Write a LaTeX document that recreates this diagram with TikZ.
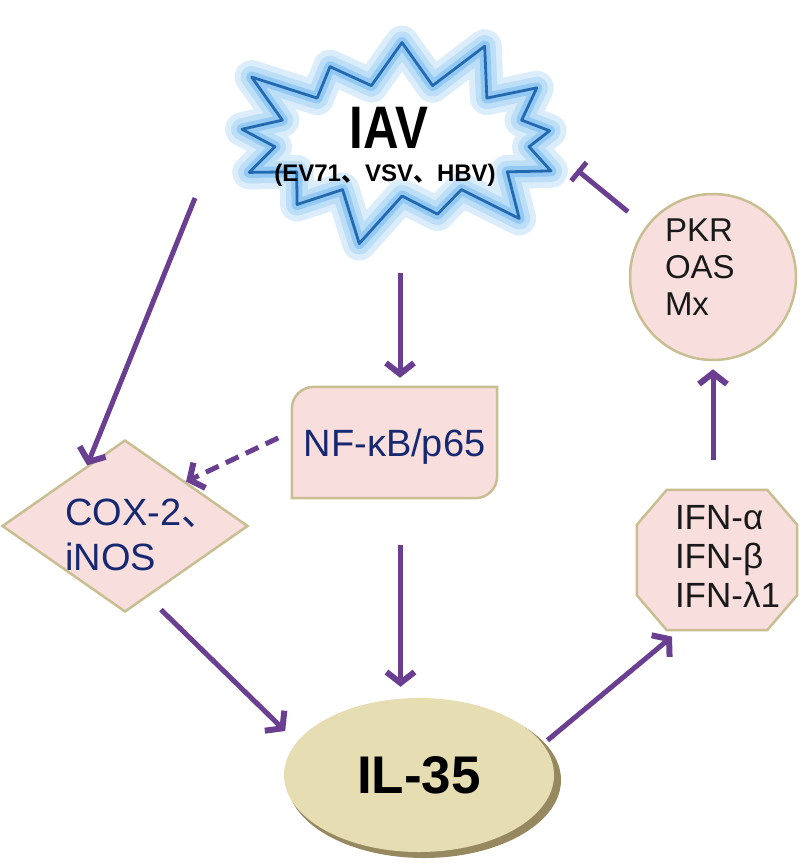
\documentclass[tikz,border=0pt]{standalone}
\usepackage{fontspec}
\setmainfont{Liberation Sans}
\newfontfamily\cjk{Noto Sans CJK SC}
\usetikzlibrary{shapes.symbols,shapes.geometric,arrows.meta,calc,backgrounds}
\definecolor{pathpurple}{RGB}{106,62,145}
\definecolor{starblue}{RGB}{35,105,175}
\definecolor{glowblue}{RGB}{135,195,240}
\definecolor{boxpink}{RGB}{249,222,222}
\definecolor{boxtan}{RGB}{200,190,145}
\definecolor{navytext}{RGB}{22,40,112}
\definecolor{inktext}{RGB}{25,25,25}
\definecolor{khaki}{RGB}{230,221,178}
\definecolor{khakidark}{RGB}{150,137,96}

\begin{document}
\begin{tikzpicture}[x=1pt,y=-1pt,
  pathway/.style={draw=pathpurple,line width=5pt,
    -{Straight Barb[length=11pt,width=28pt,line width=6pt]}},
  softbox/.style={fill=boxpink,draw=boxtan,line width=2.5pt}]
\useasboundingbox (0,0) rectangle (800,867);

% the virus
\node (iav) [starburst, starburst points=13, starburst point height=58pt,
   minimum width=372pt, minimum height=228pt, draw=starblue, line width=2.8pt, line join=round,
   preaction={draw=glowblue!30,line width=34pt,line join=round},
   preaction={draw=glowblue!55,line width=22pt,line join=round},
   preaction={draw=glowblue!90,line width=11pt,line join=round}] at (402,140) {};
\node (iavname) [anchor=base, font=\bfseries] at (389,148)
   {\scalebox{0.82}[1]{\fontsize{60}{60}\selectfont IAV}};
\node (iavlist) [anchor=base, font=\bfseries\fontsize{24}{26}\selectfont] at (385,181)
   {(EV71{\cjk 、}VSV{\cjk 、}HBV)};
\coordinate (iavleft) at ($(iav.center)+(-207,58)$);
\coordinate (iavbottom) at ($(iav.center)+(-2,133)$);
\coordinate (iavright) at ($(iav.center)+(175,30)$);

% NF-kB box
\node (nfkb) [minimum width=205pt, minimum height=111pt, text=navytext, text depth=0pt,
   font=\fontsize{38}{38}\selectfont] at (394.5,442.5) {NF-κB/p65};

% COX-2 / iNOS
\node (cox) [diamond, softbox, minimum width=246pt, minimum height=172pt, inner sep=0pt] at (125,526) {};
\node (coxlabel) [anchor=north west, inner sep=0pt, align=left, text=navytext,
   font=\fontsize{38}{45}\selectfont] at (65,499) {COX-2{\cjk 、}\\iNOS};

% IL-35
\fill[khakidark] (424,780) ellipse [x radius=137, y radius=78];
\node (il35) [ellipse, minimum width=270pt, minimum height=154pt, fill=khaki, inner sep=0pt,
   font=\bfseries\fontsize{53}{53}\selectfont] at (419,775) {IL-35};

% interferons
\node (ifn) [minimum width=160pt, minimum height=140pt, text width=84pt, align=left, text=inktext,
   text depth=86pt, font=\fontsize{35}{39}\selectfont] at (717,560)
   {\mbox{IFN-α}\\\mbox{IFN-β}\\\mbox{IFN-λ1}};

% antiviral proteins
\node (pkr) [circle, softbox, minimum size=166pt, inner sep=0pt, text width=96pt, align=left,
   text depth=94pt, text=inktext, font=\fontsize{33}{37}\selectfont] at (713,277) {PKR\\OAS\\Mx};

\begin{scope}[on background layer]
\path[softbox] (nfkb.west) [rounded corners=22pt] -- (nfkb.north west) -- (nfkb.north)
   [sharp corners] -- (nfkb.north east) -- (nfkb.east)
   [rounded corners=22pt] -- (nfkb.south east) -- (nfkb.south)
   [sharp corners] -- (nfkb.south west) -- cycle;
\path[softbox] ([xshift=30pt]ifn.north west) -- ([xshift=-30pt]ifn.north east)
   -- ([yshift=-35pt]ifn.north east) -- ([yshift=35pt]ifn.south east)
   -- ([xshift=-30pt]ifn.south east) -- ([xshift=30pt]ifn.south west)
   -- ([yshift=35pt]ifn.south west) -- ([yshift=-35pt]ifn.north west) -- cycle;
\end{scope}

% connectors
\coordinate (nfkbfoot) at ([xshift=6pt]nfkb.south);
\coordinate (ifntop) at ([xshift=-4pt]ifn.north);
\draw[pathway] (iavleft) -- (cox.122);
\draw[pathway, shorten >=9pt] (iavbottom) -- (iavbottom |- nfkb.north);
\draw[pathway, dash pattern=on 14pt off 8pt, shorten <=15pt] ([yshift=11pt]nfkb.west) -- (cox.36);
\draw[pathway, shorten <=18pt, shorten >=16pt] (cox.-72) -- (il35.165);
\draw[pathway, shorten <=47pt, shorten >=11pt] (nfkbfoot) -- (nfkbfoot |- il35.north);
\draw[pathway, shorten <=6pt, shorten >=10pt] (il35.14) -- (ifn.242);
\draw[pathway, shorten <=30pt, shorten >=8pt] (ifntop) -- (ifntop |- pkr.south);
\draw[pathway, -{Bar[width=24pt]}, shorten <=23pt] (pkr.143) -- (iavright);
\end{tikzpicture}
\end{document}
